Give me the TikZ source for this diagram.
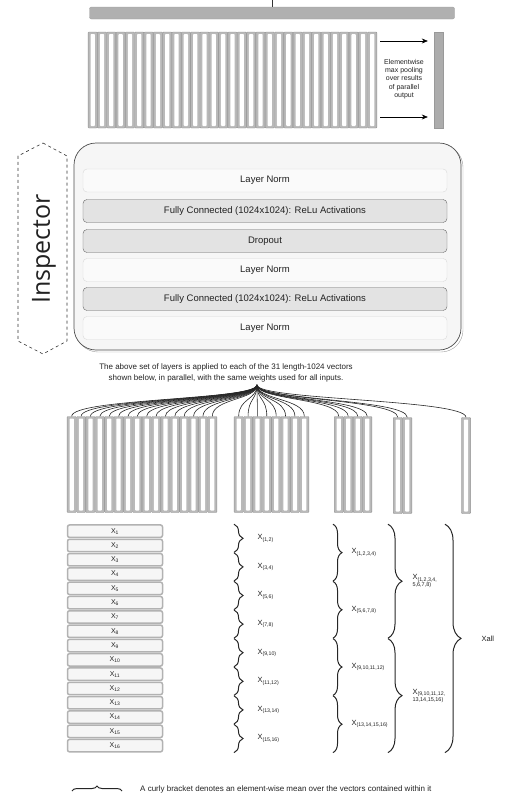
\documentclass[tikz,border=0pt]{standalone}
\usepackage{fontspec}
\setmainfont{Liberation Sans}
\newfontfamily\insfont{Open Sans}
\usetikzlibrary{decorations.pathreplacing,calc,arrows.meta}
\definecolor{txt}{HTML}{222222}
\begin{document}
\begin{tikzpicture}[x=1pt,y=-1pt,
  every node/.style={text=txt},
  vcol/.style={draw=gray!85, fill=gray!55, minimum width=9.1pt, minimum height=96pt, inner sep=0pt, rounded corners=0.8pt,
    path picture={\fill[white] ($(path picture bounding box.south west)+(2.4pt,2pt)$) rectangle ($(path picture bounding box.north east)+(-2.4pt,-2pt)$);}},
  layerlight/.style={draw=gray!30, fill=gray!4, rounded corners=4pt, minimum width=364pt, minimum height=23pt, inner sep=0pt, font=\fontsize{9.5}{11}\selectfont},
  layerdark/.style={draw=gray!80!black, fill=gray!22, rounded corners=4pt, minimum width=364pt, minimum height=23pt, inner sep=0pt, font=\fontsize{9.5}{11}\selectfont},
  xbox/.style={draw=gray!60, line width=1.5pt, fill=gray!7, rounded corners=2pt, minimum width=95pt, minimum height=12.4pt, inner sep=0pt, font=\fontsize{7}{8}\selectfont},
  conn/.style={draw=black!85, line width=0.6pt},
  arr/.style={draw=black, line width=0.6pt, -{Stealth[length=6pt,width=5pt]}},
  brc/.style={decorate, decoration={brace, amplitude=#1}, draw=black!85, line width=1pt},
  lbl/.style={anchor=west, inner sep=0pt, font=\fontsize{7.5}{8}\selectfont}
]
\useasboundingbox (0,0) rectangle (521,801);

% ---------- top: output bar and parallel outputs ----------
\coordinate (topend) at (272,0);
\node[draw=gray!75, fill=gray!62, rounded corners=2pt, minimum width=365pt, minimum height=12pt, inner sep=0pt] (pool) at (272,13) {};
\draw[black!80, line width=0.6pt] (topend) -- (pool.north);

\foreach \i in {1,...,31}
  \node[vcol] (t\i) at ({88+4.66+(\i-1)*9.32},80) {};

\node[draw=gray!80, fill=gray!65, minimum width=9pt, minimum height=96pt, inner sep=0pt] (out) at (438.5,80) {};
\coordinate (ya) at (0,41);
\coordinate (yb) at (0,117);
\draw[arr, shorten <=3pt, shorten >=6pt] (t31.east |- ya) -- (out.west |- ya);
\draw[arr, shorten <=3pt, shorten >=6pt] (t31.east |- yb) -- (out.west |- yb);
\node[align=center, font=\fontsize{7}{8.3}\selectfont, inner sep=0pt] (poolnote) at (404,79)
  {Elementwise\\max pooling\\over results\\of parallel\\output};

% ---------- Inspector ----------
\draw[dashed, black!80, line width=0.6pt] (43,143) -- (67,156) -- (67,341) -- (43,354) -- (18,341) -- (18,156) -- cycle;
\node[rotate=90, font=\insfont\fontsize{25}{28}\selectfont, inner sep=0pt] (insp) at (44,249) {Inspector};

\node[draw=gray!75, fill=white, rounded corners=22pt, minimum width=387pt, minimum height=207pt, inner sep=0pt] (mainsh) at (269.5,248.5) {};
\node[draw=black!70, fill=gray!7, rounded corners=22pt, minimum width=387pt, minimum height=207pt, inner sep=0pt, line width=0.7pt] (main) at (267.5,246.5) {};

\node[layerlight] (ln1) at (265,180.5) {Layer Norm};
\node[layerdark]  (fc1) at (265,211) {Fully Connected (1024x1024): ReLu Activations};
\node[layerdark]  (drop) at (265,241) {Dropout};
\node[layerlight] (ln2) at (265,270) {Layer Norm};
\node[layerdark]  (fc2) at (265,299) {Fully Connected (1024x1024): ReLu Activations};
\node[layerlight] (ln3) at (265,328) {Layer Norm};

\node[align=center, font=\fontsize{8}{11}\selectfont, inner sep=0pt] (note) at (226,372.5)
  {The above set of layers is applied to each of the 31 length-1024 vectors\\shown below, in parallel, with the same weights used for all inputs.};

% ---------- input vectors ----------
\foreach \i in {1,...,16}
  \node[vcol] (a\i) at ({67+4.69+(\i-1)*9.375},464.5) {};
\foreach \i in {1,...,8}
  \node[vcol] (b\i) at ({234+4.69+(\i-1)*9.375},464.5) {};
\foreach \i in {1,...,4}
  \node[vcol] (c\i) at ({334+4.75+(\i-1)*9.5},464.5) {};
\foreach \i in {1,2}
  \node[vcol] (d\i) at ({393+4.75+(\i-1)*9.5},465.5) {};
\node[vcol] (e1) at (466,465.5) {};

\coordinate (hub) at (257,385);
\foreach \n in {a1,a2,a3,a4,a5,a6,a7,a8,a9,a10,a11,a12,a13,a14,a15,a16,b1,b2,b3,b4,b5,b6,b7,b8,c1,c2,c3,c4,d1,d2,e1}
  \draw[conn] (hub) .. controls ($(hub)+(0pt,-15pt)$) and ($(\n.north)+(0pt,18pt)$) .. (\n.north);

% ---------- X list ----------
\foreach \i in {1,...,16}
  \node[xbox] (x\i) at (115,{524+(\i-0.5)*14.3}) {X\textsubscript{\i}};

\coordinate (bA) at (234,0);
\coordinate (bB) at (333,0);
\coordinate (bC) at (388,0);
\coordinate (bD) at (445,0);

\foreach \p/\q/\l in {1/2/{1,2},3/4/{3,4},5/6/{5,6},7/8/{7,8},9/10/{9,10},11/12/{11,12},13/14/{13,14},15/16/{15,16}}
  \draw[brc=9pt] (bA |- x\p.north) -- (bA |- x\q.south)
    node[lbl, midway, xshift=23pt] (p\p) {X\textsubscript{(\l)}};

\foreach \p/\q/\l in {1/4/{1,2,3,4},5/8/{5,6,7,8},9/12/{9,10,11,12},13/16/{13,14,15,16}}
  \draw[brc=9pt] (bB |- x\p.north) -- (bB |- x\q.south)
    node[lbl, midway, xshift=18pt] (q\p) {X\textsubscript{(\l)}};

\draw[brc=14pt] (bC |- x1.north) -- (bC |- x8.south)
  node[lbl, midway, xshift=24pt, align=left] (r1) {X\textsubscript{(1,2,3,4,}\\[-1pt]{\fontsize{5.5}{6}\selectfont 5,6,7,8)}};
\draw[brc=14pt] (bC |- x9.north) -- (bC |- x16.south)
  node[lbl, midway, xshift=24pt, align=left] (r2) {X\textsubscript{(9,10,11,12,}\\[-1pt]{\fontsize{5.5}{6}\selectfont 13,14,15,16)}};

\draw[brc=16pt] (bD |- x1.north) -- (bD |- x16.south)
  node[lbl, midway, xshift=36pt] (s1) {Xall};

% ---------- legend ----------
\coordinate (lgA) at (72,791);
\coordinate (lgB) at (122,791);
\draw[brc=5pt] (lgA) -- (lgB);
\node[anchor=west, inner sep=0pt, font=\fontsize{8}{10}\selectfont] (legend) at (140,789)
  {A curly bracket denotes an element-wise mean over the vectors contained within it};
\end{tikzpicture}
\end{document}
